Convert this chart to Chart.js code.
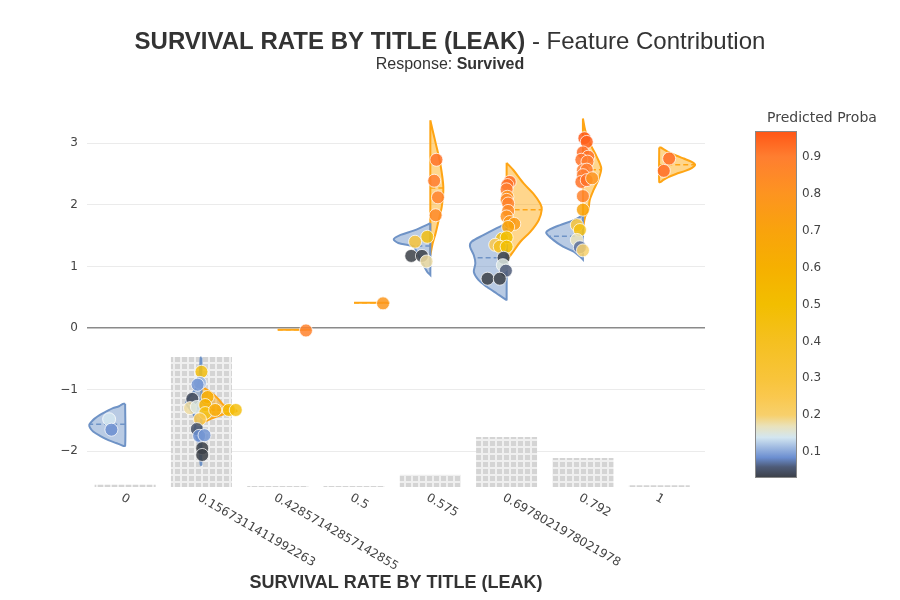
<!DOCTYPE html>
<html>
<head>
<meta charset="utf-8">
<script src="https://cdn.jsdelivr.net/npm/chart.js@4.4.1/dist/chart.umd.min.js"></script>
<style>
  html, body { margin: 0; padding: 0; background: #fff; }
  #wrap { position: relative; width: 900px; height: 600px; }
</style>
</head>
<body>
<div id="wrap"><canvas id="chart" width="900" height="600"></canvas></div>
<script>
// categories on the x axis
const categories = ['0', '0.1567311411992263', '0.42857142857142855', '0.5', '0.575', '0.6978021978021978', '0.792', '1'];

// y axis range and gray count bars (top of each bar, base = yMin)
const yMin = -2.58;
const yMax = 3.7;
const countBarTop = [-2.545, -0.47, -2.565, -2.565, -2.38, -1.77, -2.11, -2.55];

// violin profiles: [y, half width in category units], top to bottom
// "neg" = Survived 0 (blue, left half), "pos" = Survived 1 (orange, right half)
const vNeg0 = [[-1.23, 0.03], [-1.27, 0.08], [-1.30, 0.16], [-1.35, 0.24], [-1.41, 0.33], [-1.47, 0.40], [-1.52, 0.44], [-1.57, 0.47], [-1.62, 0.46], [-1.68, 0.42], [-1.75, 0.33], [-1.82, 0.22], [-1.87, 0.11], [-1.91, 0.03]];
const vNeg1 = [[-0.48, 0.01], [-0.85, 0.03], [-1.00, 0.08], [-1.12, 0.16], [-1.22, 0.20], [-1.35, 0.13], [-1.50, 0.07], [-1.65, 0.09], [-1.75, 0.07], [-1.90, 0.03], [-2.22, 0.01]];
const vNeg4 = [[1.70, 0], [1.65, 0.09], [1.58, 0.22], [1.51, 0.39], [1.44, 0.48], [1.38, 0.42], [1.32, 0.22], [1.21, 0.17], [1.05, 0.10], [0.91, 0.04], [0.86, 0]];
const vNeg5 = [[1.70, 0], [1.62, 0.13], [1.51, 0.30], [1.40, 0.46], [1.32, 0.48], [1.18, 0.43], [1.05, 0.41], [0.91, 0.43], [0.78, 0.37], [0.67, 0.26], [0.56, 0.13], [0.46, 0.01]];
const vNeg6 = [[1.83, 0], [1.75, 0.12], [1.67, 0.30], [1.59, 0.45], [1.54, 0.48], [1.43, 0.39], [1.32, 0.26], [1.24, 0.12], [1.16, 0.04], [1.11, 0]];

const vPos1 = [[-0.95, 0], [-1.05, 0.13], [-1.15, 0.22], [-1.25, 0.29], [-1.31, 0.42], [-1.35, 0.46], [-1.40, 0.29], [-1.47, 0.13], [-1.55, 0]];
const vPos2 = [[-0.03, 0.43]];
const vPos3 = [[0.41, 0.47]];
const vPos4 = [[3.37, 0], [3.21, 0.03], [3.00, 0.07], [2.67, 0.13], [2.29, 0.17], [1.97, 0.15], [1.70, 0.10], [1.54, 0.07], [1.37, 0.03], [1.18, 0]];
const vPos5 = [[2.68, 0], [2.56, 0.09], [2.35, 0.22], [2.18, 0.35], [2.02, 0.44], [1.92, 0.46], [1.75, 0.42], [1.56, 0.31], [1.40, 0.18], [1.21, 0.07], [1.10, 0]];
const vPos6 = [[3.40, 0], [3.21, 0.03], [3.00, 0.09], [2.78, 0.18], [2.59, 0.24], [2.40, 0.20], [2.24, 0.14], [2.08, 0.09], [1.91, 0.07], [1.81, 0.03], [1.62, 0]];
const vPos7 = [[2.93, 0.02], [2.90, 0.06], [2.85, 0.13], [2.80, 0.22], [2.75, 0.32], [2.70, 0.42], [2.65, 0.47], [2.60, 0.43], [2.55, 0.34], [2.50, 0.22], [2.45, 0.12], [2.40, 0.05], [2.37, 0.02]];

const negProfiles = [vNeg0, vNeg1, null, null, vNeg4, vNeg5, vNeg6, null];
const posProfiles = [null, vPos1, vPos2, vPos3, vPos4, vPos5, vPos6, vPos7];
const negMeans = [-1.56, -1.30, null, null, 1.33, 1.14, 1.49, null];
const posMeans = [null, -1.33, -0.03, 0.41, 2.27, 1.92, 2.57, 2.65];

// individual samples: x (category index + jitter), contribution, predicted proba
const pointX = [
  -0.21, -0.18,
  1.00, 0.98, 0.95, 0.88, 0.85, 0.94, 1.08, 1.05, 1.05, 0.98, 1.18, 1.36, 1.45, 0.94, 0.97, 1.04, 1.01, 1.01,
  2.37,
  3.38,
  4.08, 4.05, 4.10, 4.07, 3.96, 3.80, 3.75, 3.89, 3.95,
  5.04, 5.01, 5.00, 5.01, 5.00, 5.02, 5.02, 5.00, 5.04, 5.10, 5.02, 4.94, 5.00, 4.85, 4.91, 5.00, 4.96, 4.95, 4.99, 4.75, 4.91,
  6.02, 6.05, 6.00, 6.07, 5.98, 6.06, 6.00, 6.05, 6.00, 5.98, 6.05, 6.12, 6.00, 6.00, 5.92, 5.96, 5.92, 5.96, 6.00,
  7.13, 7.06
];
const pointY = [
  -1.48, -1.65,
  -0.71, -0.89, -0.92, -1.15, -1.30, -1.28, -1.12, -1.25, -1.38, -1.48, -1.33, -1.33, -1.33, -1.64, -1.75, -1.74, -1.95, -2.06,
  -0.04,
  0.40,
  2.73, 2.39, 2.12, 1.83, 1.48, 1.40, 1.17, 1.17, 1.08,
  2.37, 2.32, 2.25, 2.13, 2.08, 2.02, 1.90, 1.81, 1.72, 1.69, 1.64, 1.45, 1.47, 1.35, 1.32, 1.32, 1.14, 1.02, 0.93, 0.80, 0.80,
  3.08, 3.02, 2.85, 2.78, 2.73, 2.70, 2.56, 2.57, 2.48, 2.37, 2.40, 2.43, 2.14, 1.92, 1.67, 1.59, 1.43, 1.31, 1.26,
  2.75, 2.55
];
const pointProba = [
  0.14, 0.085,
  0.45, 0.11, 0.09, 0.04, 0.18, 0.15, 0.62, 0.60, 0.45, 0.25, 0.65, 0.55, 0.45, 0.05, 0.085, 0.09, 0.02, 0.02,
  0.88,
  0.78,
  0.92, 0.90, 0.88, 0.85, 0.45, 0.30, 0.02, 0.03, 0.18,
  0.93, 0.92, 0.90, 0.80, 0.85, 0.88, 0.85, 0.80, 0.78, 0.75, 0.70, 0.45, 0.50, 0.25, 0.40, 0.50, 0.03, 0.15, 0.06, 0.02, 0.03,
  0.96, 0.95, 0.93, 0.92, 0.92, 0.90, 0.90, 0.90, 0.90, 0.92, 0.92, 0.80, 0.88, 0.70, 0.30, 0.45, 0.17, 0.07, 0.20,
  0.93, 0.93
];

// colour scale of the predicted probability
const cbMin = 0.03;
const cbMax = 0.97;
const cbTicks = [0.1, 0.2, 0.3, 0.4, 0.5, 0.6, 0.7, 0.8, 0.9];
const scaleStops = [0.03, 0.06, 0.085, 0.115, 0.14, 0.17, 0.2, 0.25, 0.3, 0.4, 0.5, 0.6, 0.7, 0.8, 0.9, 0.97];
const scaleColors = ['#3b3f46', '#4e5b78', '#6b8ed0', '#a3bde2', '#d3e6f0', '#e9e2bc', '#f7d06c', '#fac84e', '#f8c43a', '#f5c020', '#f2be00', '#f6b000', '#f9a30c', '#fd9420', '#ff7e30', '#ff5515'];

function hexRgb(h) {
  return [parseInt(h.slice(1, 3), 16), parseInt(h.slice(3, 5), 16), parseInt(h.slice(5, 7), 16)];
}

function probaColor(p, alpha) {
  let i = 0;
  while (i < scaleStops.length - 2 && p > scaleStops[i + 1]) i++;
  const t = Math.max(0, Math.min(1, (p - scaleStops[i]) / (scaleStops[i + 1] - scaleStops[i])));
  const a = hexRgb(scaleColors[i]), b = hexRgb(scaleColors[i + 1]);
  const c = a.map((v, k) => Math.round(v + (b[k] - v) * t));
  return `rgba(${c[0]},${c[1]},${c[2]},${alpha})`;
}

function widthAt(prof, y) {
  if (prof.length === 1) return prof[0][1];
  for (let i = 0; i < prof.length - 1; i++) {
    const [y0, w0] = prof[i], [y1, w1] = prof[i + 1];
    if (y <= y0 && y >= y1) return w0 + (w1 - w0) * (y0 - y) / (y0 - y1);
  }
  return 0;
}

function makePattern() {
  const c = document.createElement('canvas');
  c.width = 7; c.height = 7;
  const g = c.getContext('2d');
  g.fillStyle = '#efefef';
  g.fillRect(0, 0, 7, 7);
  g.fillStyle = '#d4d4d4';
  g.fillRect(0, 0, 5, 5);
  return g.createPattern(c, 'repeat');
}

const ctx = document.getElementById('chart').getContext('2d');

const BLUE_LINE = '#6f93c6';
const BLUE_FILL = 'rgba(100,140,195,0.45)';
const ORANGE_LINE = '#ffa514';
const ORANGE_FILL = 'rgba(255,165,0,0.45)';

const datasets = [];

datasets.push({
  type: 'bar',
  data: categories.map((c, i) => ({ x: i, y: [yMin, countBarTop[i]] })),
  backgroundColor: makePattern(),
  borderWidth: 0,
  categoryPercentage: 0.8,
  barPercentage: 1,
  order: 10
});

function addViolin(prof, cat, side, mean, line, fill) {
  const pts = [{ x: cat, y: prof[0][0] }];
  prof.forEach(([y, w]) => pts.push({ x: cat + side * w, y: y }));
  pts.push({ x: cat, y: prof[prof.length - 1][0] });
  pts.push({ x: cat, y: prof[0][0] });
  datasets.push({
    type: 'line',
    data: pts,
    borderColor: line,
    backgroundColor: fill,
    borderWidth: 2,
    fill: 'shape',
    tension: 0.3,
    pointRadius: 0,
    order: 5
  });
  if (mean !== null) {
    datasets.push({
      type: 'line',
      data: [{ x: cat, y: mean }, { x: cat + side * widthAt(prof, mean), y: mean }],
      borderColor: line,
      borderWidth: 1.5,
      borderDash: [5, 3],
      fill: false,
      pointRadius: 0,
      order: 4
    });
  }
}

categories.forEach((c, i) => {
  if (negProfiles[i]) addViolin(negProfiles[i], i, -1, negMeans[i], BLUE_LINE, BLUE_FILL);
  if (posProfiles[i]) addViolin(posProfiles[i], i, 1, posMeans[i], ORANGE_LINE, ORANGE_FILL);
});

datasets.push({
  type: 'scatter',
  data: pointX.map((x, i) => ({ x: x, y: pointY[i] })),
  pointRadius: 6.5,
  pointHoverRadius: 6.5,
  pointBackgroundColor: pointProba.map(p => probaColor(p, 0.85)),
  pointBorderColor: 'rgba(255,255,255,0.75)',
  pointBorderWidth: 1,
  order: 0
});

const TICK_FONT = '"DejaVu Sans", Verdana, sans-serif';
const TITLE_FONT = '"Liberation Sans", Arial, sans-serif';

const decorations = {
  id: 'decorations',
  afterDraw(chart) {
    const { ctx, scales: { x }, chartArea } = chart;
    ctx.save();

    // rotated category labels
    ctx.font = '12px ' + TICK_FONT;
    ctx.fillStyle = '#444';
    ctx.textAlign = 'left';
    ctx.textBaseline = 'middle';
    categories.forEach((lab, i) => {
      const px = x.getPixelForValue(i);
      ctx.save();
      ctx.translate(px - 3, chartArea.bottom + 10);
      ctx.rotate(Math.PI / 6);
      ctx.fillText(lab, 0, 0);
      ctx.restore();
    });

    // main title (bold + regular parts)
    const boldPart = 'SURVIVAL RATE BY TITLE (LEAK)';
    const normPart = ' - Feature Contribution';
    ctx.fillStyle = '#333';
    ctx.font = 'bold 24px ' + TITLE_FONT;
    const wb = ctx.measureText(boldPart).width;
    ctx.font = '24px ' + TITLE_FONT;
    const wn = ctx.measureText(normPart).width;
    let sx = 450 - (wb + wn) / 2;
    ctx.font = 'bold 24px ' + TITLE_FONT;
    ctx.fillText(boldPart, sx, 42);
    ctx.font = '24px ' + TITLE_FONT;
    ctx.fillText(normPart, sx + wb, 42);

    const subA = 'Response: ';
    const subB = 'Survived';
    ctx.font = '16px ' + TITLE_FONT;
    const wa = ctx.measureText(subA).width;
    ctx.font = 'bold 16px ' + TITLE_FONT;
    const wbb = ctx.measureText(subB).width;
    sx = 450 - (wa + wbb) / 2;
    ctx.font = '16px ' + TITLE_FONT;
    ctx.fillText(subA, sx, 65);
    ctx.font = 'bold 16px ' + TITLE_FONT;
    ctx.fillText(subB, sx + wa, 65);

    // colour bar
    const cbL = 755, cbR = 797, cbT = 131, cbB = 478;
    const grad = ctx.createLinearGradient(0, cbB, 0, cbT);
    scaleStops.forEach((s, i) => {
      grad.addColorStop(Math.max(0, Math.min(1, (s - cbMin) / (cbMax - cbMin))), scaleColors[i]);
    });
    ctx.fillStyle = grad;
    ctx.fillRect(cbL, cbT, cbR - cbL, cbB - cbT);
    ctx.strokeStyle = '#888';
    ctx.lineWidth = 1;
    ctx.strokeRect(cbL + 0.5, cbT + 0.5, cbR - cbL - 1, cbB - cbT - 1);

    ctx.fillStyle = '#444';
    ctx.font = '12px ' + TICK_FONT;
    ctx.textAlign = 'left';
    cbTicks.forEach(v => {
      const py = cbB - (v - cbMin) / (cbMax - cbMin) * (cbB - cbT);
      ctx.fillText(String(v), 802, py);
    });
    ctx.font = '14px ' + TICK_FONT;
    ctx.fillText('Predicted Proba', 767, 118);

    ctx.restore();
  }
};

new Chart(ctx, {
  type: 'scatter',
  data: { datasets: datasets },
  options: {
    responsive: false,
    animation: false,
    events: [],
    layout: { padding: { left: 47, right: 195, top: 100, bottom: 0 } },
    plugins: {
      legend: { display: false },
      tooltip: { enabled: false },
      title: { display: false }
    },
    scales: {
      x: {
        type: 'linear',
        min: -0.5,
        max: 7.6,
        offset: false,
        afterBuildTicks: s => { s.ticks = categories.map((c, i) => ({ value: i })); },
        grid: { display: false },
        border: { display: false },
        ticks: { display: false },
        title: {
          display: true,
          text: 'SURVIVAL RATE BY TITLE (LEAK)',
          color: '#333',
          font: { family: TITLE_FONT, size: 18, weight: 'bold' },
          padding: { top: 0, bottom: 6 }
        },
        afterFit: s => { s.height = 113; }
      },
      y: {
        min: yMin,
        max: yMax,
        afterBuildTicks: s => { s.ticks = [-2, -1, 0, 1, 2, 3].map(v => ({ value: v })); },
        grid: {
          drawTicks: false,
          color: c => (c.tick && c.tick.value === 0 ? '#8a8a8a' : '#ebebeb'),
          lineWidth: c => (c.tick && c.tick.value === 0 ? 1.5 : 1)
        },
        border: { display: false },
        ticks: {
          padding: 9,
          color: '#444',
          font: { family: TICK_FONT, size: 12 },
          callback: v => (v < 0 ? '\u2212' + Math.abs(v) : String(v))
        },
        afterFit: s => { s.width = 40; }
      }
    }
  },
  plugins: [decorations]
});
</script>
</body>
</html>
